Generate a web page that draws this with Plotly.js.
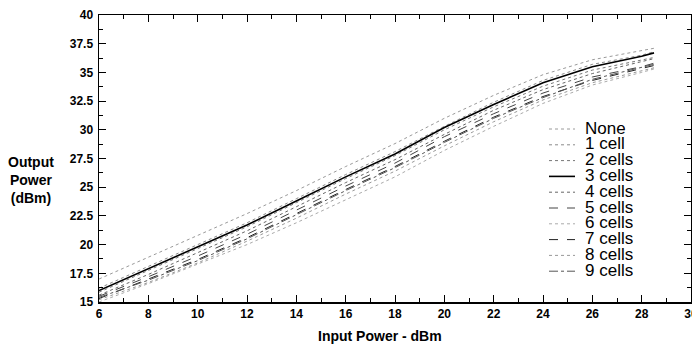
<!DOCTYPE html>
<html>
<head>
<meta charset="utf-8">
<script src="https://cdn.plot.ly/plotly-3.0.1.min.js"></script>
<style>html,body{margin:0;padding:0;background:#fff;}#chart{width:692px;height:346px;}</style>
</head>
<body>
<div id="chart"></div>
<script>
const inputPower = [6, 8, 10, 12, 14, 16, 18, 20, 22, 24, 26, 28, 28.5];
const seriesNames = ["None", "1 cell", "2 cells", "3 cells", "4 cells", "5 cells", "6 cells", "7 cells", "8 cells", "9 cells"];
const none   = [17.0, 18.9, 20.8, 22.7, 24.7, 26.8, 28.8, 31.0, 33.0, 34.8, 36.1, 36.9, 37.1];
const cell1  = [16.2, 18.1, 20.0, 21.9, 24.0, 26.1, 28.1, 30.3, 32.4, 34.3, 35.7, 36.5, 36.8];
const cell2  = [15.85, 17.75, 19.65, 21.55, 23.65, 25.75, 27.75, 30.0, 32.0, 33.8, 35.2, 36.1, 36.3];
const cell3  = [16.0, 17.9, 19.8, 21.7, 23.8, 25.9, 27.9, 30.2, 32.2, 34.1, 35.5, 36.4, 36.7];
const cell4  = [15.6, 17.4, 19.3, 21.2, 23.3, 25.4, 27.4, 29.6, 31.7, 33.5, 34.9, 35.9, 36.2];
const cell5  = [15.5, 17.2, 19.0, 20.9, 23.0, 25.1, 27.1, 29.4, 31.4, 33.2, 34.6, 35.5, 35.8];
const cell6  = [15.0, 16.6, 18.3, 20.0, 21.9, 23.9, 25.9, 28.2, 30.3, 32.3, 33.9, 35.0, 35.3];
const cell7  = [15.3, 17.0, 18.7, 20.6, 22.7, 24.8, 26.8, 29.0, 31.1, 32.9, 34.3, 35.3, 35.6];
const cell8  = [15.2, 16.7, 18.4, 20.3, 22.3, 24.4, 26.4, 28.6, 30.7, 32.6, 34.1, 35.1, 35.4];
const cell9  = [15.4, 16.9, 18.6, 20.5, 22.6, 24.7, 26.7, 28.9, 31.0, 32.8, 34.4, 35.4, 35.7];
const seriesValues = [none, cell1, cell2, cell3, cell4, cell5, cell6, cell7, cell8, cell9];
const xTicks = [6, 8, 10, 12, 14, 16, 18, 20, 22, 24, 26, 28, 30];
const yTicks = [15, 17.5, 20, 22.5, 25, 27.5, 30, 32.5, 35, 37.5, 40];

const styles = [
  {color: "#9a9a9a", dash: "dot", width: 1},
  {color: "#8a8a8a", dash: "dot", width: 1},
  {color: "#777777", dash: "dot", width: 1},
  {color: "#000000", dash: "solid", width: 1.6},
  {color: "#666666", dash: "dot", width: 1},
  {color: "#444444", dash: "dash", width: 1},
  {color: "#aaaaaa", dash: "dot", width: 1},
  {color: "#222222", dash: "dash", width: 1},
  {color: "#999999", dash: "dot", width: 1},
  {color: "#555555", dash: "dashdot", width: 1}
];

const traces = seriesNames.map((n, i) => ({
  x: inputPower, y: seriesValues[i], name: n, type: "scatter", mode: "lines",
  line: styles[i], showlegend: false
}));

const W = 692, H = 346, L = 99, R = 1, T = 15, B = 44;
const pw = W - L - R, ph = H - T - B;
const px = v => (v - L) / pw;
const py = v => (H - B - v) / ph;

const annotations = [];
const shapes = [];
seriesNames.forEach((n, i) => {
  const yc = 128 + i * 15.8;
  annotations.push({xref: "paper", yref: "paper", x: px(583), y: py(yc), xanchor: "left", yanchor: "middle",
    text: n, showarrow: false, height: 15, font: {family: "Liberation Sans, Arial", size: 17, color: "#000"}});
  shapes.push({type: "line", xref: "paper", yref: "paper", x0: px(549), x1: px(575), y0: py(yc + 1), y1: py(yc + 1),
    line: {color: styles[i].color, dash: styles[i].dash, width: styles[i].width}});
});
annotations.push({xref: "paper", yref: "paper", x: px(31), y: py(180), xanchor: "center", yanchor: "middle",
  text: "<b>Output<br>Power<br>(dBm)</b>", showarrow: false, align: "center",
  font: {family: "Liberation Sans, Arial", size: 14, color: "#000"}});
annotations.push({xref: "paper", yref: "paper", x: px(380), y: py(336), xanchor: "center", yanchor: "middle",
  text: "<b>Input Power - dBm</b>", showarrow: false,
  font: {family: "Liberation Sans, Arial", size: 14, color: "#000"}});

const tickFont = {family: "Liberation Sans, Arial", size: 12, color: "#000", weight: "bold"};
const layout = {
  width: W, height: H,
  margin: {l: L, r: R, t: T, b: B, pad: 0},
  paper_bgcolor: "#fff", plot_bgcolor: "#fff",
  showlegend: false,
  xaxis: {range: [6, 30], tickvals: xTicks, ticktext: xTicks.map(v => "<b>" + v + "</b>"),
    ticks: "inside", ticklen: 7, tickwidth: 1, tickcolor: "#000", showgrid: false, zeroline: false,
    showline: true, linecolor: "#000", linewidth: 1.5, mirror: "ticks", tickfont: tickFont,
    ticklabeloverflow: "allow",
    minor: {dtick: 1, tick0: 6, ticks: "inside", ticklen: 4, tickcolor: "#000", showgrid: false}},
  yaxis: {range: [15, 40], tickvals: yTicks, ticktext: yTicks.map(v => "<b>" + v + "</b>"),
    ticks: "inside", ticklen: 7, tickwidth: 1, tickcolor: "#000", showgrid: false, zeroline: false,
    showline: true, linecolor: "#000", linewidth: 1.5, mirror: "ticks", tickfont: tickFont, ticklabelstandoff: 2,
    ticklabeloverflow: "allow",
    minor: {dtick: 1.25, tick0: 15, ticks: "inside", ticklen: 4, tickcolor: "#000", showgrid: false}},
  annotations: annotations,
  shapes: shapes
};
Plotly.newPlot("chart", traces, layout, {displayModeBar: false, staticPlot: true});
</script>
</body>
</html>
